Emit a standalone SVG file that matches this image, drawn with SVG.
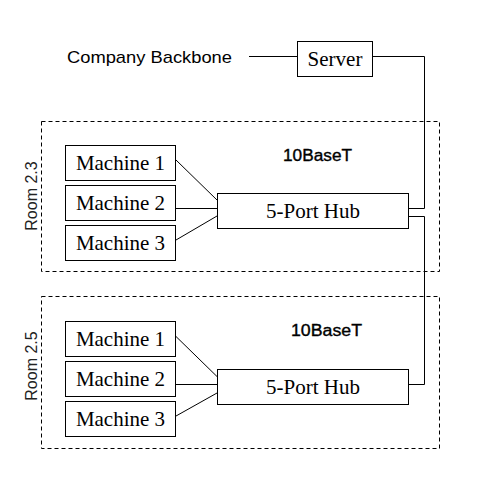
<svg xmlns="http://www.w3.org/2000/svg" width="479" height="479" viewBox="0 0 479 479">
<style>
.box{fill:#fff;stroke:#000;stroke-width:1}
.room{fill:none;stroke:#000;stroke-width:1;stroke-dasharray:4,3}
.lbl{font-family:"Liberation Serif","Times New Roman",serif;font-size:21px;fill:#000;text-anchor:middle}
.sans{font-family:"Liberation Sans",Arial,sans-serif;font-size:17px;fill:#000}
.net{font-family:"Liberation Sans",Arial,sans-serif;font-size:16px;fill:#000;stroke:#000;stroke-width:0.35}
.roomlbl{font-family:"Liberation Sans",Arial,sans-serif;font-size:16px;fill:#222;text-anchor:middle}
.wire{fill:none;stroke:#000;stroke-width:1}
</style>
<rect width="479" height="479" fill="#fff"/>
<g id="room23">
<rect class="room" x="41.5" y="121.5" width="398" height="150"/>
<text class="roomlbl" transform="translate(37,196) rotate(-90)">Room 2.3</text>
<text class="net" x="283" y="161" textLength="69" lengthAdjust="spacingAndGlyphs">10BaseT</text>
</g>
<g id="room25">
<rect class="room" x="41.5" y="296.5" width="398" height="152"/>
<text class="roomlbl" transform="translate(37,366) rotate(-90)">Room 2.5</text>
<text class="net" x="291" y="336" textLength="71" lengthAdjust="spacingAndGlyphs">10BaseT</text>
</g>
<g id="backbone">
<text class="sans" x="67" y="63" textLength="165" lengthAdjust="spacingAndGlyphs">Company Backbone</text>
</g>
<g id="connectors">
<path class="wire" d="M249,56.5H298"/>
<path class="wire" d="M373,56.5H424.5V208.5H409"/>
<path class="wire" d="M409,216.5H424.5V384.5H409"/>
<path class="wire" d="M176,160L217,200"/>
<path class="wire" d="M176,208.5H217"/>
<path class="wire" d="M176,240L217,216"/>
<path class="wire" d="M176,336.5L217,376.5"/>
<path class="wire" d="M176,384.5H217"/>
<path class="wire" d="M176,416L217,393"/>
</g>
<g id="server">
<rect class="box" x="297.5" y="41.5" width="75" height="35"/>
<text class="lbl" x="335" y="66">Server</text>
</g>
<g id="m1a">
<rect class="box" x="65.5" y="145.5" width="110" height="35"/>
<text class="lbl" x="120.5" y="170">Machine 1</text>
</g>
<g id="m2a">
<rect class="box" x="65.5" y="185.5" width="110" height="35"/>
<text class="lbl" x="120.5" y="210">Machine 2</text>
</g>
<g id="m3a">
<rect class="box" x="65.5" y="225.5" width="110" height="35"/>
<text class="lbl" x="120.5" y="250">Machine 3</text>
</g>
<g id="hubA">
<rect class="box" x="217.5" y="193.5" width="191" height="35"/>
<text class="lbl" x="313" y="218">5-Port Hub</text>
</g>
<g id="m1b">
<rect class="box" x="65.5" y="321.5" width="110" height="35"/>
<text class="lbl" x="120.5" y="346">Machine 1</text>
</g>
<g id="m2b">
<rect class="box" x="65.5" y="361.5" width="110" height="35"/>
<text class="lbl" x="120.5" y="386">Machine 2</text>
</g>
<g id="m3b">
<rect class="box" x="65.5" y="401.5" width="110" height="35"/>
<text class="lbl" x="120.5" y="426">Machine 3</text>
</g>
<g id="hubB">
<rect class="box" x="217.5" y="369.5" width="191" height="35"/>
<text class="lbl" x="313" y="394">5-Port Hub</text>
</g>
</svg>
